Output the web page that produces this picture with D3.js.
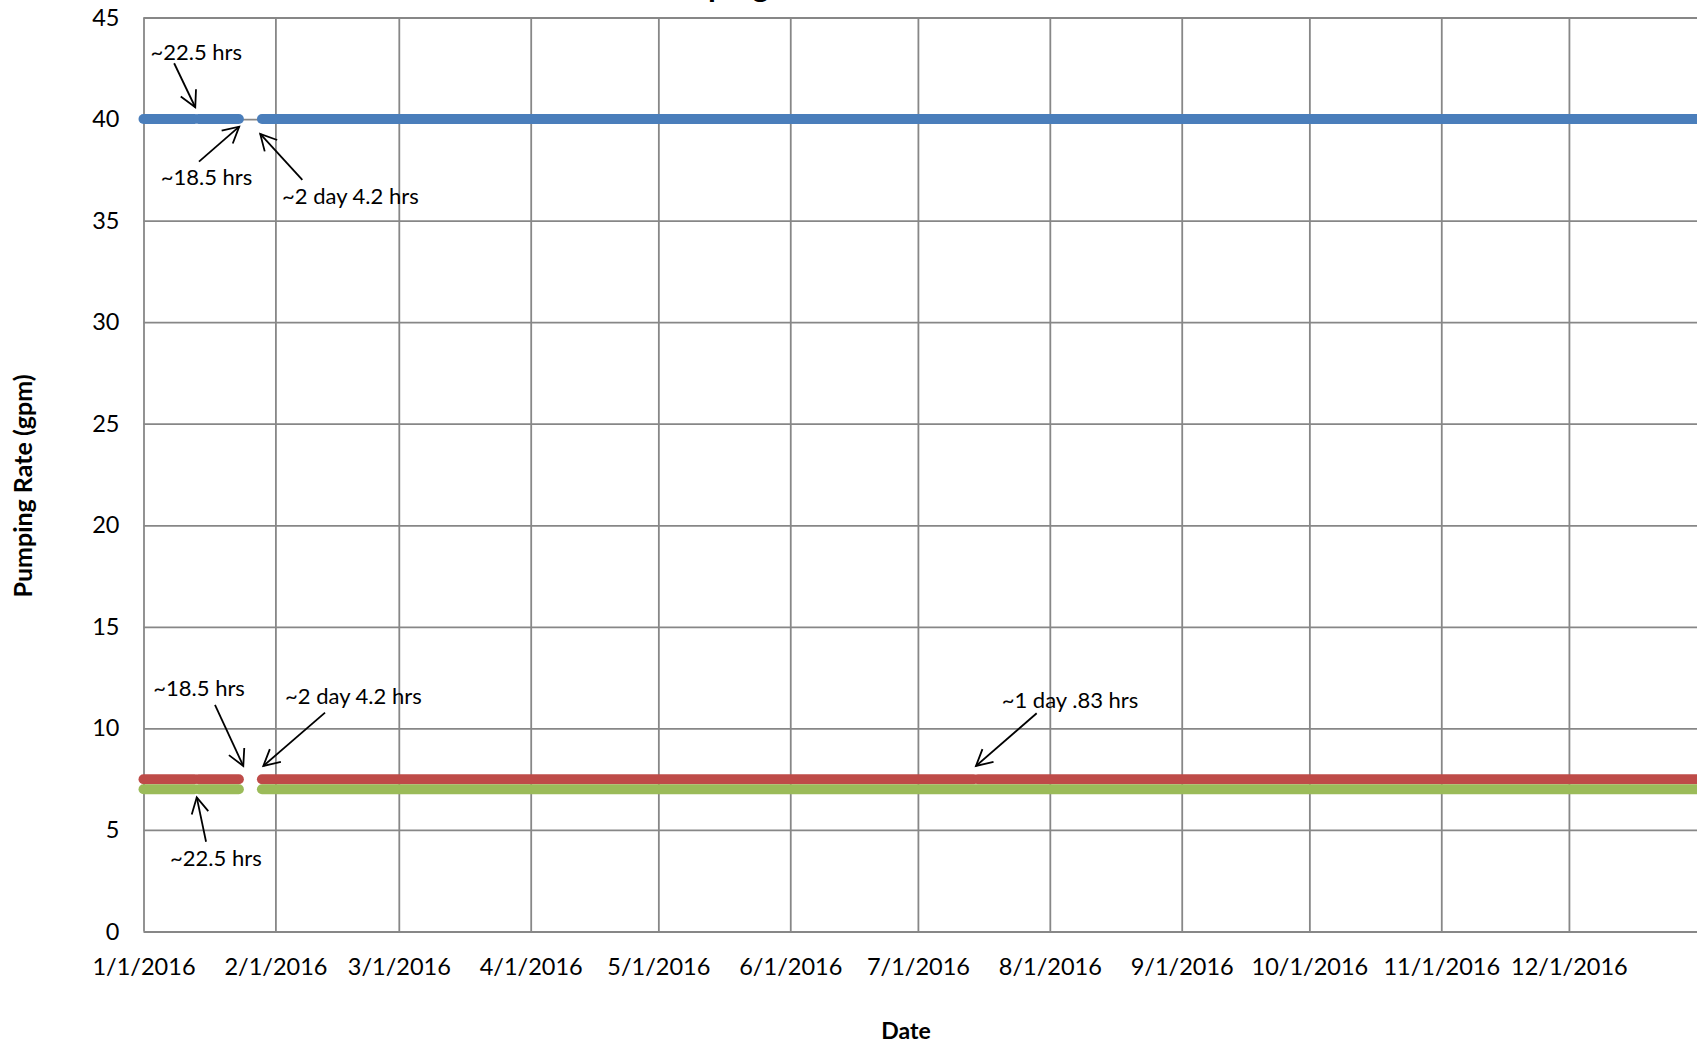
<!DOCTYPE html>
<html>
<head>
<meta charset="utf-8">
<script src="https://cdn.jsdelivr.net/npm/d3@7"></script>
<style>
  html, body { margin: 0; padding: 0; background: #fff; overflow: hidden; }
  svg { display: block; font-family: Lato, "Open Sans", sans-serif; }
</style>
</head>
<body>
<svg id="chart" width="1697" height="1045"></svg>
<script>
// ---- data ---------------------------------------------------------------
const monthTicks = ["2016-01-01","2016-02-01","2016-03-01","2016-04-01","2016-05-01","2016-06-01",
                    "2016-07-01","2016-08-01","2016-09-01","2016-10-01","2016-11-01","2016-12-01"];
const rateTicks = [0, 5, 10, 15, 20, 25, 30, 35, 40, 45];

// pumping rate (gpm) of each well and the periods it was running
const seriesRates = [40, 7.5, 7];
const blueRuns = [
  ["2016-01-01T00:00", "2016-01-13T00:00"],
  ["2016-01-13T22:30", "2016-01-23T10:00"],
  ["2016-01-28T20:00", "2017-01-01T00:00"]
];
const redRuns = [
  ["2016-01-01T00:00", "2016-01-13T00:00"],
  ["2016-01-13T22:30", "2016-01-23T10:00"],
  ["2016-01-28T20:00", "2016-07-14T02:00"],
  ["2016-07-15T02:50", "2017-01-01T00:00"]
];
const greenRuns = [
  ["2016-01-01T00:00", "2016-01-13T00:00"],
  ["2016-01-13T22:30", "2016-01-23T10:00"],
  ["2016-01-28T20:00", "2017-01-01T00:00"]
];

// downtime notes: label, moment of the event, and the rate line it sits on
const noteTexts = ["~22.5 hrs", "~18.5 hrs", "~2 day 4.2 hrs", "~18.5 hrs", "~2 day 4.2 hrs", "~22.5 hrs", "~1 day .83 hrs"];
const noteTimes = ["2016-01-13T11:15", "2016-01-23T10:00", "2016-01-28T20:00",
                   "2016-01-23T10:00", "2016-01-28T20:00", "2016-01-13T11:15", "2016-07-14T14:25"];
const noteRates = [40, 40, 40, 7.5, 7.5, 7, 7.5];

// ---- layout & style -----------------------------------------------------
const seriesColors = ["#4a7ebb", "#be4b48", "#9bbb59"];
const plot = { left: 143.5, top: 17.5, bottom: 931.5 };
const dayPx = 4.255;
// per note: arrow tip, arrow tail and label start, as pixel offsets from the event point
const noteTip  = [[-1.3,-11.8],[0.3,7.6],[-1.7,14.9],[4.4,-13.2],[1.4,-13.2],[0.2,8],[0.2,-13.2]];
const noteTail = [[-22.4,-55.8],[-39.9,42.6],[40.4,60.9],[-23.9,-74.2],[63.1,-66.5],[9.5,52.4],[60.9,-65.9]];
const noteText = [[-46.1,-59.4],[-78.2,65.6],[20.1,84.9],[-85.6,-82.9],[23.1,-75.2],[-26.5,76.4],[25.9,-71.2]];

const parse = d3.isoParse;
const svg = d3.select("#chart");

const x0 = parse("2016-01-01T00:00"), x1 = parse("2017-01-01T00:00");
const x = d3.scaleTime()
  .domain([x0, x1])
  .range([plot.left, plot.left + dayPx * d3.timeDay.count(x0, x1)]);
const y = d3.scaleLinear().domain([0, 45]).range([plot.bottom, plot.top]);

const plotW = x.range()[1] - plot.left;
const plotH = plot.bottom - plot.top;
const fmt = d => (d.getMonth() + 1) + "/" + d.getDate() + "/" + d.getFullYear();

// vertical gridlines + date labels
const xAxis = svg.append("g")
  .attr("transform", `translate(0,${plot.bottom})`)
  .call(d3.axisBottom(x)
    .tickValues(monthTicks.map(parse))
    .tickFormat(fmt)
    .tickSizeInner(-plotH)
    .tickSizeOuter(0)
    .tickPadding(27));
// horizontal gridlines + rate labels
const yAxis = svg.append("g")
  .attr("transform", `translate(${plot.left},0)`)
  .call(d3.axisLeft(y)
    .tickValues(rateTicks)
    .tickSizeInner(-plotW)
    .tickSizeOuter(0)
    .tickPadding(24));

[xAxis, yAxis].forEach(g => {
  g.select(".domain").remove();
  g.selectAll(".tick line").attr("stroke", "#878787").attr("stroke-width", 1.8);
  g.selectAll(".tick text").attr("fill", "#000").attr("font-size", 23.5)
    .attr("font-family", "Lato, sans-serif");
});

// rate lines
const line = d3.line().x(d => x(d[0])).y(d => y(d[1]));
[blueRuns, redRuns, greenRuns].forEach((runs, i) => {
  svg.append("g").selectAll("path")
    .data(runs)
    .join("path")
    .attr("d", r => line([[parse(r[0]), seriesRates[i]], [parse(r[1]), seriesRates[i]]]))
    .attr("fill", "none")
    .attr("stroke", seriesColors[i])
    .attr("stroke-width", 10)
    .attr("stroke-linecap", "round");
});

// downtime notes with open arrowheads
const notes = svg.append("g");
noteTexts.forEach((t, i) => {
  const px = x(parse(noteTimes[i])), py = y(noteRates[i]);
  const tip = [px + noteTip[i][0], py + noteTip[i][1]];
  const tail = [px + noteTail[i][0], py + noteTail[i][1]];
  notes.append("line")
    .attr("x1", tail[0]).attr("y1", tail[1]).attr("x2", tip[0]).attr("y2", tip[1])
    .attr("stroke", "#000").attr("stroke-width", 1.8);
  const ang = Math.atan2(tail[1] - tip[1], tail[0] - tip[0]);
  const len = 18, spread = 28 * Math.PI / 180;
  const head = [ang - spread, ang + spread].map(a => [tip[0] + len * Math.cos(a), tip[1] + len * Math.sin(a)]);
  notes.append("path")
    .attr("d", `M${head[0][0]},${head[0][1]}L${tip[0]},${tip[1]}L${head[1][0]},${head[1][1]}`)
    .attr("fill", "none").attr("stroke", "#000").attr("stroke-width", 1.8)
    .attr("stroke-linejoin", "miter");
  notes.append("text")
    .attr("x", px + noteText[i][0]).attr("y", py + noteText[i][1])
    .attr("font-size", 22).attr("fill", "#000")
    .text(t);
});

// axis titles
svg.append("text")
  .attr("x", 906).attr("y", 1039)
  .attr("text-anchor", "middle")
  .attr("font-size", 23).attr("font-weight", "bold")
  .text("Date");
svg.append("text")
  .attr("transform", "translate(32,486) rotate(-90)")
  .attr("text-anchor", "middle")
  .attr("font-size", 25).attr("font-weight", "bold")
  .text("Pumping Rate (gpm)");

// chart title sits above the top edge of the page
const title = svg.append("text")
  .attr("x", 0).attr("y", -3)
  .attr("font-size", 32).attr("font-weight", "bold")
  .text("Pumping Rates");
const pStart = title.node().getStartPositionOfChar(3).x;
title.attr("x", 708 - pStart);
</script>
</body>
</html>
